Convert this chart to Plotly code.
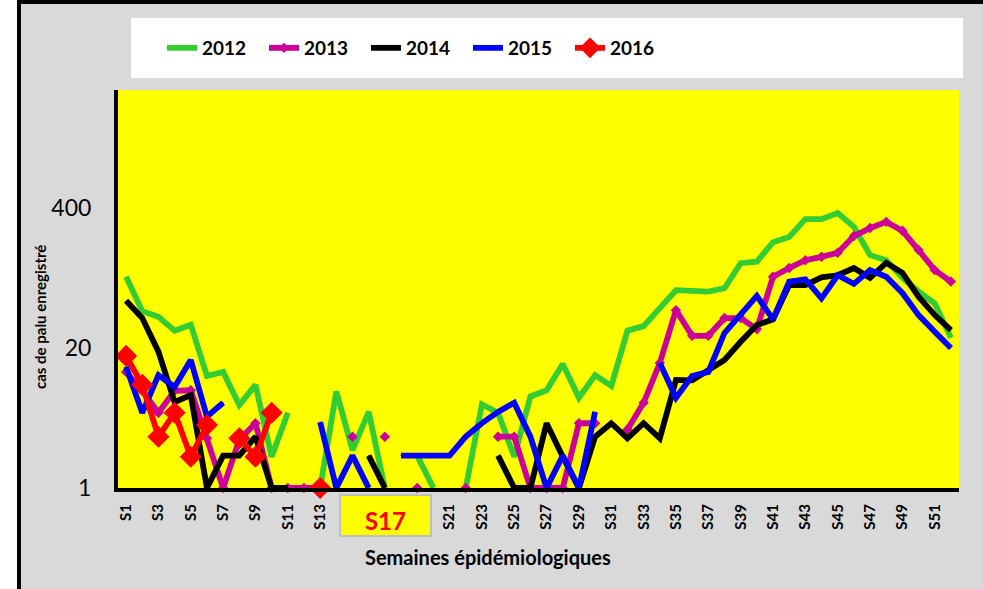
import plotly.graph_objects as go

# Epidemiological weeks S1..S52
weeks = [f"S{i}" for i in range(1, 53)]
tick_labels = [f"S{i}" for i in range(1, 53, 2)]

# Weekly malaria case counts (None = no report)
cases_2012 = [92, 44, 39, 29, 33, 11, 12, 5.9, 9.1, 1.95, 5.0, None, 1, 7.9, 2.25, 5.1, 1, None,
              2.0, 1, None, 1, 6.0, 5.0, 1.95, 7.1, 8.1, 14.2, 6.9, 11.2, 8.9, 29, 32, 47, 69, 68,
              67, 72, 123, 127, 193, 216, 316, 316, 359, 268, 146, 131, 90, 67, 52, 25]
cases_2013 = [12, 8, 5.0, 8.0, 8.1, 2.9, 1, 2.8, 4.0, 1, 1, 1, 1, None, 3.0, None, 3.0, None,
              1, None, None, 1, None, 3.0, 3.0, 1, 1, 1, 4.0, 4.0, None, 3.5, 6.2, 14.5, 45, 26,
              26, 38, 38, 30, 92, 111, 131, 141, 154, 220, 261, 298, 246, 163, 106, 83]
cases_2014 = [55, 38, 18.5, 6.3, 7.3, 1, 2.0, 2.0, 3.0, 1, 1, None, None, None, None, 2.0, 1, None,
              None, None, None, None, None, 2.0, 1, 1, 4.0, 1.95, 1, 3.0, 4.0, 2.9, 4.0, 2.9, 10.1, 10,
              12.5, 15.5, 22.9, 32.7, 37, 77, 77, 91, 95, 111, 90, 124, 100, 60, 40.5, 29.4]
cases_2015 = [13.4, 5.0, 11.2, 8.7, 15.5, 4.6, 6.2, None, None, None, None, None, 4.1, 1, 2.0, 1, None, 2.0,
              2.0, 2.0, 2.0, 3.0, 4.0, 5.1, 6.2, 3.0, 1, 2.0, 1, 5.1, None, None, None, 14.5, 6.9, 11,
              12, 27.6, 42, 61, 37, 83, 87, 58, 95, 79, 106, 92, 65, 40.5, 28.3, 20]
cases_2016 = [16.9, 9.1, 3.0, 5.0, 1.95, 3.85, None, 2.9, 1.95, 5.0, None, None, 1] + [None] * 39

y_ticks = [1, 20, 400]

series = [
    ("2012", cases_2012, "#33cc33", dict(size=1, symbol="diamond")),
    ("2013", cases_2013, "#cc0099", dict(size=8, symbol="diamond")),
    ("2014", cases_2014, "#000000", dict(size=1, symbol="diamond")),
    ("2015", cases_2015, "#0000ff", dict(size=1, symbol="diamond")),
    ("2016", cases_2016, "#ff0000", dict(size=17, symbol="diamond")),
]

fig = go.Figure()
for name, vals, color, marker in series:
    fig.add_trace(go.Scatter(
        x=weeks, y=vals, name=name, mode="lines+markers",
        line=dict(color=color, width=5.8),
        marker=dict(color=color, **marker),
        connectgaps=False, cliponaxis=False,
    ))

W, H = 983, 589
L, R, T, B = 118, 24, 90, 101
pw, ph = W - L - R, H - T - B


def px_x(px):
    return (px - L) / pw


def px_y(py):
    return (H - B - py) / ph


shapes = [
    # white strip left of the chart frame
    dict(type="rect", xref="paper", yref="paper", layer="below",
         x0=px_x(-20), x1=px_x(17), y0=px_y(620), y1=px_y(-20),
         fillcolor="white", line=dict(width=0)),
    # black frame border
    dict(type="rect", xref="paper", yref="paper", layer="above",
         x0=px_x(19), x1=px_x(1000), y0=px_y(620), y1=px_y(2),
         fillcolor="rgba(0,0,0,0)", line=dict(color="black", width=4)),
    # white legend panel
    dict(type="rect", xref="paper", yref="paper", layer="below",
         x0=px_x(131), x1=px_x(963), y0=px_y(78), y1=px_y(18),
         fillcolor="white", line=dict(width=0)),
]

annotations = [
    dict(text="<b>cas de palu enregistré</b>", xref="paper", yref="paper",
         x=px_x(40), y=px_y(317), xanchor="center", yanchor="middle",
         textangle=-90, showarrow=False,
         font=dict(family="Lato", size=15, color="black")),
    dict(text="<b>Semaines épidémiologiques</b>", xref="paper", yref="paper",
         x=px_x(488), y=px_y(557), xanchor="center", yanchor="middle", showarrow=False,
         font=dict(family="Lato", size=20, color="black")),
    dict(text="<b>S17</b>", xref="paper", yref="paper",
         x=px_x(385.5), y=px_y(515), xanchor="center", yanchor="middle", showarrow=False,
         width=89, height=39, valign="bottom",
         bgcolor="#ffff00", bordercolor="#bfbfbf", borderwidth=2, borderpad=0,
         font=dict(family="Lato", size=24, color="#ff0000")),
]

fig.update_layout(
    width=W, height=H,
    margin=dict(l=L, r=R, t=T, b=B),
    paper_bgcolor="#d9d9d9",
    plot_bgcolor="#ffff00",
    showlegend=True,
    legend=dict(orientation="h", x=px_x(162), y=px_y(48), xanchor="left", yanchor="middle",
                bgcolor="rgba(0,0,0,0)", entrywidth=57, entrywidthmode="pixels",
                font=dict(family="Lato", size=19, color="black", weight="bold")),
    xaxis=dict(type="category", range=[-0.5, 51.5], tickmode="array",
               tickvals=tick_labels, ticktext=tick_labels, tickangle=-90,
               tickfont=dict(family="Lato", size=15, color="black", weight="bold"),
               showline=True, linecolor="black", linewidth=4, showgrid=False,
               ticks="", ticklabelstandoff=6),
    yaxis=dict(type="log", range=[0, 3.70], tickmode="array", tickvals=y_ticks,
               ticktext=[str(v) for v in y_ticks],
               tickfont=dict(family="Lato", size=23, color="black"),
               showline=True, linecolor="black", linewidth=4, showgrid=False,
               zeroline=False, ticks="", ticklabelstandoff=18),
    shapes=shapes,
    annotations=annotations,
)

fig.write_html("out.html")
